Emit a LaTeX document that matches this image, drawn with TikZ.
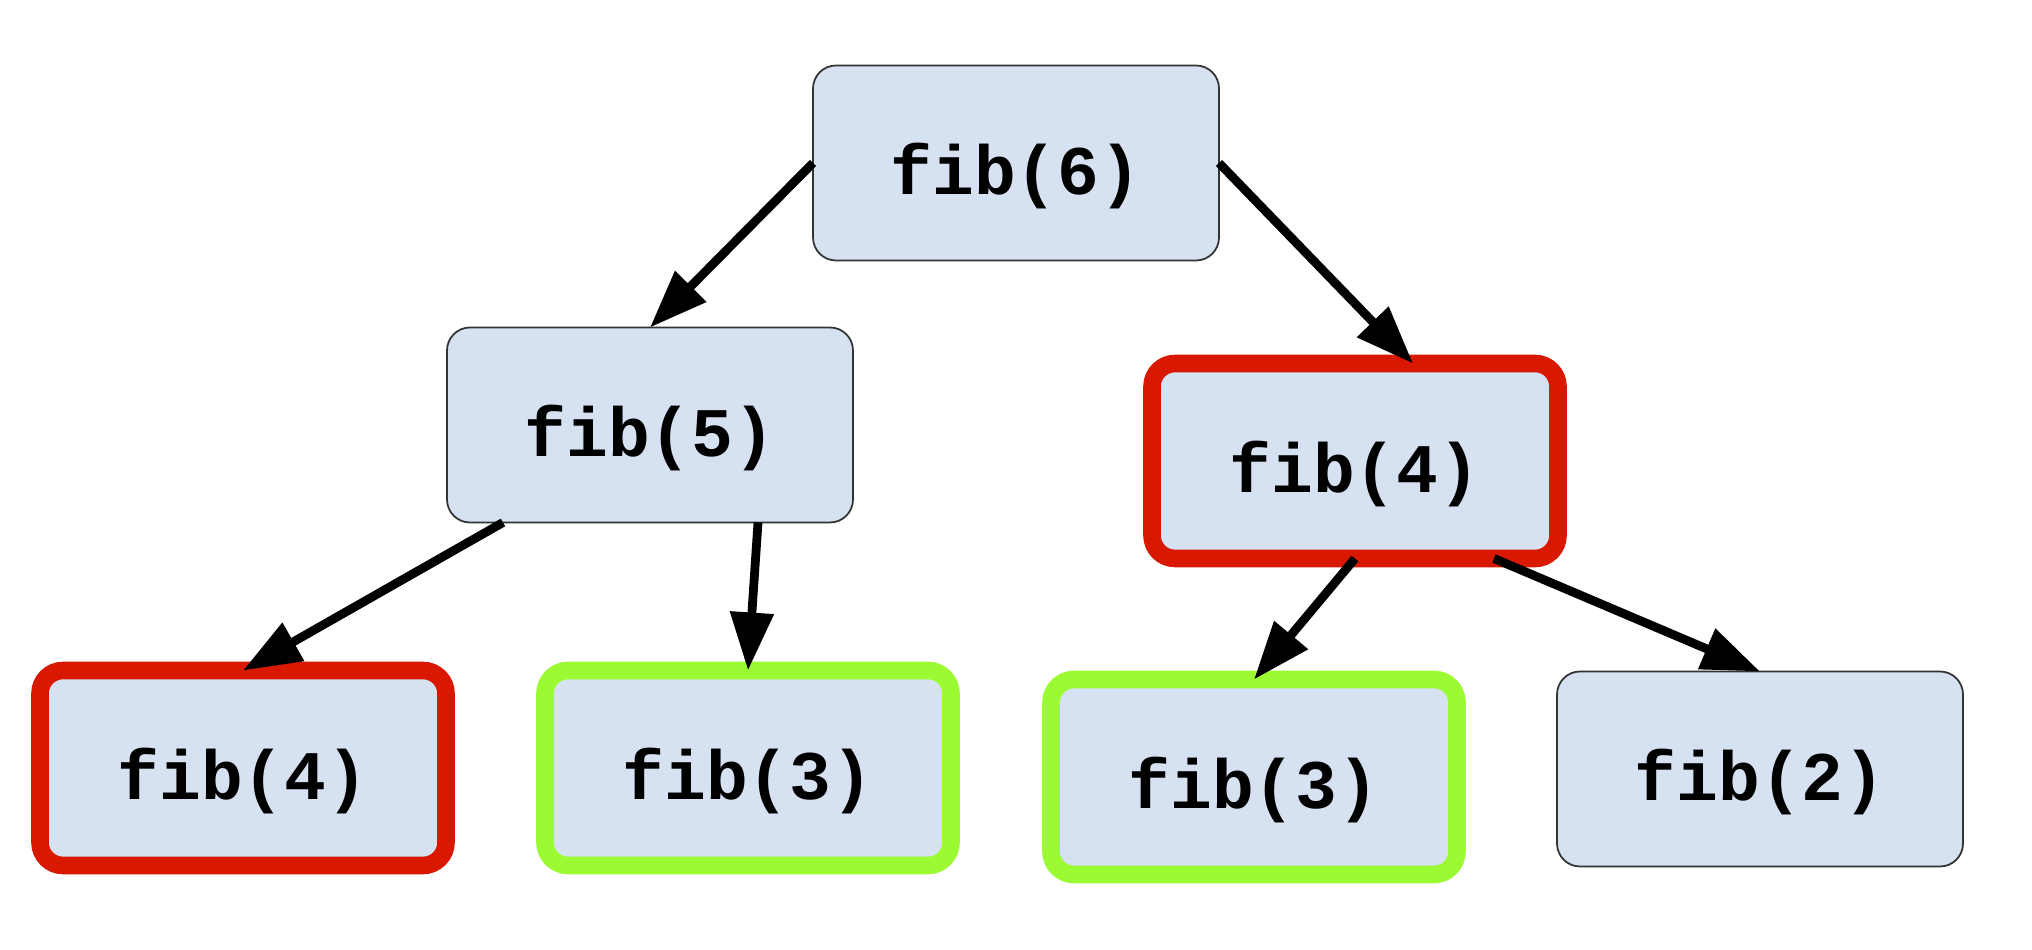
\documentclass[tikz,border=0pt]{standalone}
\usepackage{fontspec}
\setmonofont{Liberation Mono}
\usetikzlibrary{arrows.meta}

\definecolor{callfill}{RGB}{214,225,242}
\definecolor{dupred}{RGB}{216,24,0}
\definecolor{dupgreen}{RGB}{155,250,50}

\begin{document}
\begin{tikzpicture}[
    call/.style={draw=black!80, line width=0.5pt, fill=callfill, rounded corners=0.23cm,
      minimum width=4.06cm, minimum height=1.95cm, outer sep=0pt,
      text height=0.64cm, text depth=0cm,
      font=\fontsize{19.8}{23}\selectfont\ttfamily\bfseries},
    redcall/.style={call, draw=dupred, line width=5pt},
    greencall/.style={call, draw=dupgreen, line width=5pt},
    calledge/.style={line width=2.5pt, -{Triangle[length=5.8mm, width=4.2mm]}}
  ]

    \useasboundingbox (0,0) rectangle (20.32,9.5);

    % the calls
    \node[call] (fibsix) at (10.16,7.87) {fib(6)};
    \node[call] (fibfive) at (6.50,5.25) {fib(5)};
    \node[redcall] (fibfourR) at (13.55,4.89) {fib(4)};
    \node[redcall] (fibfourL) at (2.43,1.82) {fib(4)};
    \node[greencall] (fibthreeL) at (7.48,1.82) {fib(3)};
    \node[greencall] (fibthreeR) at (12.54,1.73) {fib(3)};
    \node[call] (fibtwo) at (17.60,1.81) {fib(2)};

    % the recursive calls
    \draw[calledge] (fibsix.west) -- (fibfive.north);
    \draw[calledge] (fibsix.east) -- ([xshift=0.58cm]fibfourR.north);
    \draw[calledge] ([xshift=-1.47cm]fibfive.south) -- (fibfourL.north);
    \draw[calledge] ([xshift=1.08cm]fibfive.south) -- (fibthreeL.north);
    \draw[calledge] (fibfourR.south) -- (fibthreeR.north);
    \draw[calledge] ([xshift=1.39cm]fibfourR.south) -- (fibtwo.north);
  \end{tikzpicture}
\end{document}
